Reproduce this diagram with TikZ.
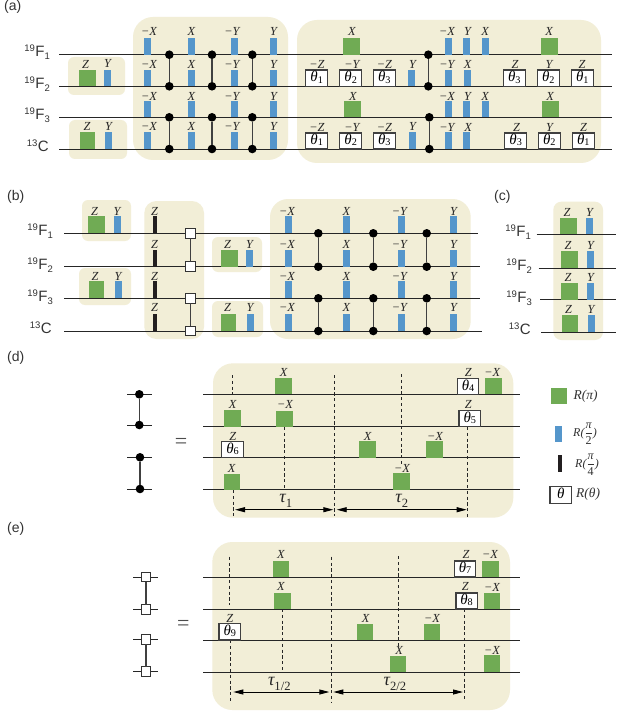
\documentclass[tikz,border=0pt]{standalone}
\usepackage{fontspec}
\setmainfont{Liberation Sans}
\newfontfamily\labfont{Liberation Serif}
\usetikzlibrary{arrows.meta}
\definecolor{pgreen}{RGB}{112,171,84}
\definecolor{pblue}{RGB}{85,150,203}
\definecolor{pbg}{RGB}{242,238,215}
\definecolor{pblack}{RGB}{35,31,32}
\newcounter{nid}
\newcommand{\nn}{\stepcounter{nid}}
\newcommand{\sbs}[1]{\raisebox{-0.28em}{\scalebox{0.7}{\upshape #1}}}
\newcommand{\sbt}[1]{\raisebox{-0.08em}{\scalebox{0.68}{\upshape #1}}}
\tikzset{
  x=1pt,y=-1pt,
  bgbox/.style={fill=pbg,draw=none,rounded corners=#1},
  wire/.style={draw=black!85,line width=0.95pt},
  link/.style={draw=black!75,line width=1.05pt},
  dotn/.style={circle,fill=black,draw=none,minimum size=8.6pt,inner sep=0pt,outer sep=0pt},
  sqn/.style={rectangle,fill=white,draw=black!80,line width=1pt,minimum size=9.5pt,inner sep=0pt,outer sep=0pt},
  pulsebase/.style={rectangle,inner sep=0pt,outer sep=0pt,draw=none},
  gp/.style={pulsebase,fill=pgreen},
  bp/.style={pulsebase,fill=pblue},
  kp/.style={pulsebase,fill=pblack},
  tp/.style={pulsebase,fill=white,draw=black!75,line width=1.1pt,font=\fontsize{15}{15}\selectfont\labfont\itshape},
  lab/.style={inner sep=0pt,font=\fontsize{12.3}{12.3}\selectfont\labfont\itshape,text=black!85},
  spin/.style={inner sep=0pt,anchor=east,font=\fontsize{15}{15}\selectfont,text=black!80},
  panel/.style={inner sep=0pt,anchor=west,font=\fontsize{14}{14}\selectfont,text=black!80},
  dashline/.style={draw=black!85,line width=0.85pt,dash pattern=on 3.2pt off 2.6pt},
  timearrow/.style={draw=black,line width=0.9pt,{Triangle[length=10pt,width=5pt]}-{Triangle[length=10pt,width=5pt]}},
  tau/.style={inner sep=0pt,font=\fontsize{18}{18}\selectfont\labfont\itshape,text=black!85},
  eqs/.style={inner sep=0pt,font=\fontsize{22}{22}\selectfont\labfont,text=black!70},
  leg/.style={inner sep=0pt,anchor=west,font=\fontsize{13.5}{13.5}\selectfont\labfont\itshape,text=black!80},
  legf/.style={inner sep=0pt,anchor=west,font=\fontsize{12}{12}\selectfont\labfont\itshape,text=black!80},
}
% pulse: style, xc, width, top, bottom
\newcommand{\pp}[5]{\nn\node[#1,minimum width=#3pt,minimum height={(#5-(#4))*1pt}] (p\arabic{nid}) at (#2,{(#4+#5)/2}) {};}
\newcommand{\tb}[6]{\nn\node[tp,minimum width=#2pt,minimum height={(#4-(#3))*1pt}] (p\arabic{nid}) at (#1,{(#3+#4)/2}) {\raisebox{-0.25em}[0pt][0pt]{θ\sbt{#5}}};}
\newcommand{\lb}[3]{\nn\node[lab] (l\arabic{nid}) at (#1,#2) {#3};}
\newcommand{\wirex}[3]{\nn\coordinate (wa\arabic{nid}) at (#1,#3);\coordinate (wb\arabic{nid}) at (#2,#3);\draw[wire] (wa\arabic{nid}) -- (wb\arabic{nid});}
\newcommand{\dd}[3]{\nn\node[dotn] (da\arabic{nid}) at (#1,#2) {};\node[dotn] (db\arabic{nid}) at (#1,#3) {};\draw[link] (da\arabic{nid}) -- (db\arabic{nid});}
\newcommand{\sqpair}[3]{\nn\node[sqn] (sa\arabic{nid}) at (#1,#2) {};\node[sqn] (sb\arabic{nid}) at (#1,#3) {};\draw[link] (sa\arabic{nid}) -- (sb\arabic{nid});}
\newcommand{\dashl}[3]{\nn\coordinate (va\arabic{nid}) at (#1,#2);\coordinate (vb\arabic{nid}) at (#1,#3);\draw[dashline] (va\arabic{nid}) -- (vb\arabic{nid});}
\newcommand{\tarrow}[3]{\nn\coordinate (ta\arabic{nid}) at (#1,#3);\coordinate (tb\arabic{nid}) at (#2,#3);\draw[timearrow] (ta\arabic{nid}) -- (tb\arabic{nid});}
\newcommand{\FF}[1]{\textsuperscript{\fontsize{9.5}{9.5}\selectfont 19}F\raisebox{-0.2em}{\fontsize{9.5}{9.5}\selectfont #1}}
\newcommand{\CC}{\textsuperscript{\fontsize{9.5}{9.5}\selectfont 13}C}
\begin{document}
\begin{tikzpicture}
\useasboundingbox (0,0) rectangle (616,714);
\fill[white] (0,0) rectangle (616,714);
% ---------- backgrounds
\fill[bgbox=6pt] (68,57) rectangle (125,95);
\fill[bgbox=6pt] (69,120) rectangle (127,159);
\fill[bgbox=20pt] (133,17) rectangle (288,160);
\fill[bgbox=20pt] (297,20) rectangle (601,163);
\fill[bgbox=6pt] (82,200) rectangle (131,241);
\fill[bgbox=6pt] (79,268) rectangle (131,305);
\fill[bgbox=12pt] (144.3,201) rectangle (204,339);
\fill[bgbox=6pt] (212,237) rectangle (262,272);
\fill[bgbox=6pt] (212,301) rectangle (263,337);
\fill[bgbox=18pt] (270,199) rectangle (470.7,339);
\fill[bgbox=8pt] (553.3,201.7) rectangle (603,340);
\fill[bgbox=20pt] (213,363.3) rectangle (513.3,517.7);
\fill[bgbox=20pt] (212.3,542) rectangle (510,710);
% ---------- panel labels
\node[panel] (pa) at (4,7) {(a)};
\node[panel] (pb) at (7,197) {(b)};
\node[panel] (pc) at (494,197) {(c)};
\node[panel] (pd) at (7,358) {(d)};
\node[panel] (pe) at (7,529) {(e)};
% ---------- panel (a)
\node[spin] (a1) at (50,52) {\FF{1}};
\node[spin] (a2) at (50,84) {\FF{2}};
\node[spin] (a3) at (50,115) {\FF{3}};
\node[spin] (a4) at (49,146) {\CC};
\wirex{59}{612}{54.7}\wirex{59}{612}{86.3}\wirex{59}{612}{117.3}\wirex{59}{612}{149}
\pp{gp}{87.5}{17}{70}{86.3}\lb{85.5}{64}{Z}
\pp{bp}{107.5}{7}{70}{86.3}\lb{107.5}{63}{Y}
\pp{gp}{87.5}{15}{132}{149}\lb{87}{126}{Z}
\pp{bp}{108.5}{7}{132}{149}\lb{108.5}{126}{Y}
\foreach \x/\lx/\tx in {147.3/149/−X,191.3/191.5/X,234.3/232/−Y,273.3/273.5/Y}{
  \pp{bp}{\x}{7}{38}{54.7}\lb{\lx}{31}{\tx}
  \pp{bp}{\x}{7}{70}{86.3}\lb{\lx}{64}{\tx}
  \pp{bp}{\x}{7}{101}{117.3}\lb{\lx}{96}{\tx}
  \pp{bp}{\x}{7}{132}{149}\lb{\lx}{126}{\tx}
}
\foreach \x in {169.3,212,252.3}{\dd{\x}{54.7}{86.3}\dd{\x}{117.3}{149}}
\pp{gp}{351.3}{17}{38}{54.7}\lb{352}{31}{X}
\pp{gp}{352.3}{17}{101}{117.3}\lb{353}{96}{X}
\pp{gp}{549.3}{17}{38}{54.7}\lb{549}{31}{X}
\pp{gp}{550.3}{17}{101}{117.3}\lb{550}{96}{X}
\tb{316.7}{22}{70}{86.3}{1}{}\lb{317}{64}{−Z}
\tb{350.7}{22}{70}{86.3}{2}{}\lb{352}{64}{−Y}
\tb{384.3}{22}{70}{86.3}{3}{}\lb{384.5}{64}{−Z}
\pp{bp}{411.7}{7}{70}{86.3}\lb{412.5}{64}{Y}
\tb{514.3}{22}{70}{86.3}{3}{}\lb{515}{64}{Z}
\tb{548.3}{22}{70}{86.3}{2}{}\lb{549}{64}{Y}
\tb{582.3}{22}{70}{86.3}{1}{}\lb{582}{64}{Z}
\tb{316.7}{22}{133}{149}{1}{}\lb{317}{127}{−Z}
\tb{350.7}{22}{133}{149}{2}{}\lb{352}{127}{−Y}
\tb{384.3}{22}{133}{149}{3}{}\lb{384.5}{127}{−Z}
\pp{bp}{412.7}{7}{132}{149}\lb{412.5}{126}{Y}
\tb{515.7}{22}{133}{149}{3}{}\lb{516.5}{127}{Z}
\tb{549.3}{22}{133}{149}{2}{}\lb{549.5}{127}{Y}
\tb{583.3}{22}{133}{149}{1}{}\lb{583.5}{127}{Z}
\dd{428.3}{54.7}{86.3}\dd{429.3}{117.3}{149}
\foreach \x/\lx/\tx in {448.7/447/−X,466.7/467.5/Y,485.7/485/X}{
  \pp{bp}{\x}{7}{38}{54.7}\lb{\lx}{31}{\tx}
  \pp{bp}{\x}{7}{101}{117.3}\lb{\lx}{96}{\tx}
}
\pp{bp}{448.7}{7}{70}{86.3}\lb{447}{64}{−Y}
\pp{bp}{467.7}{7}{70}{86.3}\lb{467.5}{64}{X}
\pp{bp}{448.7}{7}{132}{149}\lb{447}{127}{−Y}
\pp{bp}{466.7}{7}{132}{149}\lb{468}{127}{X}
% ---------- panel (b)
\node[spin] (b1) at (53,231) {\FF{1}};
\node[spin] (b2) at (53,265) {\FF{2}};
\node[spin] (b3) at (53,297) {\FF{3}};
\node[spin] (b4) at (52,328) {\CC};
\wirex{64}{478}{233.3}\wirex{64}{480}{266.7}\wirex{64}{480}{298.3}\wirex{64}{481.7}{331}
\pp{gp}{96.5}{17}{216}{233.3}\lb{94.5}{211}{Z}
\pp{bp}{117.5}{7}{216}{233.3}\lb{117}{211}{Y}
\pp{gp}{96.5}{15}{281}{298.3}\lb{95}{276}{Z}
\pp{bp}{118.5}{7}{281}{298.3}\lb{118}{276}{Y}
\pp{kp}{155}{4}{216}{233.3}\lb{154.5}{211}{Z}
\pp{kp}{155}{4}{250}{266.7}\lb{154.5}{244}{Z}
\pp{kp}{155}{4}{281}{298.3}\lb{154.5}{276}{Z}
\pp{kp}{155}{4}{314}{331}\lb{154.5}{307}{Z}
\sqpair{190.7}{233.3}{266.7}\sqpair{190.7}{298.3}{331}
\pp{gp}{229.5}{17}{250}{266.7}\lb{227.5}{244}{Z}
\pp{bp}{249.5}{7}{250}{266.7}\lb{249.5}{244}{Y}
\pp{gp}{228.5}{15}{314}{331}\lb{227.5}{307}{Z}
\pp{bp}{250.5}{7}{314}{331}\lb{250}{307}{Y}
\foreach \x/\lx/\tx in {288.7/287/−X,346.7/346.5/X,401.3/399.5/−Y,453.7/453.5/Y}{
  \pp{bp}{\x}{7}{216}{233.3}\lb{\lx}{211}{\tx}
  \pp{bp}{\x}{7}{250}{266.7}\lb{\lx}{244}{\tx}
  \pp{bp}{\x}{7}{281}{298.3}\lb{\lx}{276}{\tx}
  \pp{bp}{\x}{7}{314}{331}\lb{\lx}{307}{\tx}
}
\foreach \x in {318.3,373.3,426.7}{\dd{\x}{233.3}{266.7}\dd{\x}{298.3}{331}}
% ---------- panel (c)
\node[spin] (c1) at (531,232) {\FF{1}};
\node[spin] (c2) at (532,266) {\FF{2}};
\node[spin] (c3) at (532,298) {\FF{3}};
\node[spin] (c4) at (531,329) {\CC};
\wirex{536.7}{616}{234}\wirex{538.7}{616}{268}\wirex{540}{616}{299.7}\wirex{541}{616}{332}
\pp{gp}{568.5}{17}{218}{234}\lb{567}{212}{Z}
\pp{bp}{589.5}{7}{218}{234}\lb{589.5}{212}{Y}
\pp{gp}{569.5}{17}{251}{268}\lb{568}{245}{Z}
\pp{bp}{590.5}{7}{251}{268}\lb{590.5}{245}{Y}
\pp{gp}{569.5}{17}{283}{299.7}\lb{568}{277}{Z}
\pp{bp}{590.5}{7}{283}{299.7}\lb{590.5}{277}{Y}
\pp{gp}{570}{16}{315}{332}\lb{568.5}{309}{Z}
\pp{bp}{591.5}{7}{315}{332}\lb{591}{309}{Y}
% ---------- panel (d)
\nn\coordinate (la1) at (127,394.3);\coordinate (la2) at (152.3,394.3);\draw[wire] (la1) -- (la2);
\nn\coordinate (la3) at (127,425);\coordinate (la4) at (152.3,425);\draw[wire] (la3) -- (la4);
\nn\coordinate (la5) at (127,457.3);\coordinate (la6) at (152.3,457.3);\draw[wire] (la5) -- (la6);
\nn\coordinate (la7) at (127,489);\coordinate (la8) at (152.3,489);\draw[wire] (la7) -- (la8);
\dd{139.3}{394.3}{425}\dd{140}{457.3}{489}
\node[eqs] (eq1) at (181,443) {=};
\wirex{203.3}{520}{394.3}\wirex{203.3}{520}{426.7}\wirex{203.3}{520}{457.7}\wirex{203.3}{520}{489.7}
\dashl{232.3}{375}{394}\dashl{233}{490}{516.7}\dashl{284.7}{427}{489.7}\dashl{334}{375}{515.7}\dashl{401}{374}{465}\dashl{467.7}{427}{516.7}
\pp{gp}{283.5}{17}{378}{394.3}\lb{283.7}{372}{X}
\pp{gp}{232.5}{17}{410}{426.7}\lb{232.7}{404}{X}
\pp{gp}{284.5}{17}{411}{426.7}\lb{285}{404}{−X}
\tb{232.5}{21.6}{441.3}{457.7}{6}{}\lb{232.7}{436}{Z}
\pp{gp}{232}{16}{474}{489.7}\lb{231.7}{468}{X}
\pp{gp}{367.5}{17}{441}{457.7}\lb{367.7}{436}{X}
\pp{gp}{434.5}{17}{441}{457.7}\lb{435}{436}{−X}
\pp{gp}{401.5}{17}{473}{489.7}\lb{402}{468}{−X}
\tb{468}{21.4}{378.3}{394.3}{4}{}\lb{468.3}{372}{Z}
\pp{gp}{493.5}{17}{378}{394.3}\lb{492.3}{372}{−X}
\tb{469.8}{21.7}{410.3}{426.7}{5}{}\lb{468.3}{404}{Z}
\tarrow{235}{333.3}{509.7}\tarrow{336.7}{466.7}{509.7}
\nn\node[tau] (t1) at (285.7,501) {τ\sbs{1}};
\nn\node[tau] (t2) at (401.7,501) {τ\sbs{2}};
% ---------- panel (e)
\nn\coordinate (le1) at (133.3,577);\coordinate (le2) at (158,577);\draw[wire] (le1) -- (le2);
\nn\coordinate (le3) at (133.3,609.3);\coordinate (le4) at (158,609.3);\draw[wire] (le3) -- (le4);
\nn\coordinate (le5) at (133.3,639.7);\coordinate (le6) at (158,639.7);\draw[wire] (le5) -- (le6);
\nn\coordinate (le7) at (133.3,671.7);\coordinate (le8) at (158,671.7);\draw[wire] (le7) -- (le8);
\sqpair{146}{577}{609.3}\sqpair{146}{639.7}{671.7}
\node[eqs] (eq2) at (183.3,625.7) {=};
\wirex{203.3}{520}{577}\wirex{203.3}{520}{609}\wirex{203.3}{520}{640}\wirex{203.3}{520}{672}
\dashl{229.7}{556.7}{605}\dashl{230.3}{640}{701.7}\dashl{282}{609}{672}\dashl{331.3}{556.7}{703}\dashl{398.3}{556}{646.7}\dashl{464.7}{609}{700}
\pp{gp}{281}{16}{561}{577}\lb{281}{554.3}{X}
\pp{gp}{282.5}{17}{593}{609}\lb{281}{586.7}{X}
\tb{229.8}{21.7}{623.7}{640}{9}{}\lb{229.7}{618}{Z}
\pp{gp}{365}{16}{624}{640}\lb{365.7}{618}{X}
\pp{gp}{432}{16}{624}{640}\lb{432}{618}{−X}
\pp{gp}{398}{16}{656}{672}\lb{399}{650.7}{X}
\tb{465}{21.4}{561}{577}{7}{}\lb{466}{554.7}{Z}
\pp{gp}{490.5}{17}{561}{577}\lb{490}{554.7}{−X}
\tb{466.6}{21.3}{593}{609}{8}{}\lb{465.3}{586}{Z}
\pp{gp}{492}{16}{593}{609}\lb{492}{587}{−X}
\pp{gp}{492}{16}{655}{672}\lb{492}{650}{−X}
\tarrow{233.3}{329.3}{692}\tarrow{333.3}{463}{692}
\nn\node[tau] (t3) at (279.3,684) {τ\sbs{1/2}};
\nn\node[tau] (t4) at (395,684) {τ\sbs{2/2}};
% ---------- legend
\pp{gp}{559}{16}{388}{404}
\node[leg] (lg1) at (573.3,396.7) {R(π)};
\pp{bp}{558.5}{7}{426}{442}
\node[legf] (lg2) at (573,433.5) {R($\displaystyle\frac{\mbox{\itshape π}}{\mbox{\upshape 2}}$)};
\pp{kp}{560}{4}{455}{472}
\node[legf] (lg3) at (575,464.5) {R($\displaystyle\frac{\mbox{\itshape π}}{\mbox{\upshape 4}}$)};
\nn\node[tp,minimum width=21.7pt,minimum height=16.7pt] (lg4) at (560.8,494.7) {\raisebox{-0.25em}[0pt][0pt]{θ}};
\node[leg] (lg5) at (576,494) {R(θ)};
\end{tikzpicture}
\end{document}
